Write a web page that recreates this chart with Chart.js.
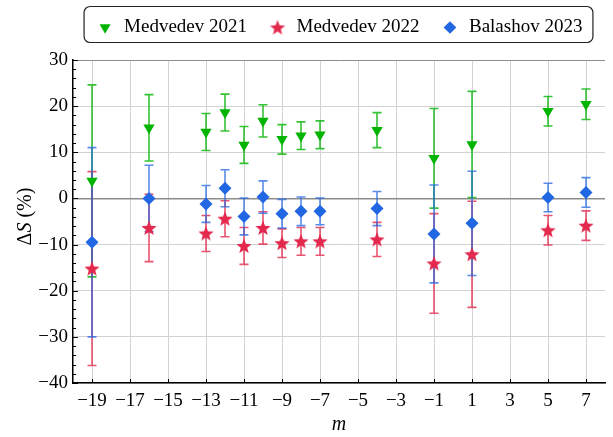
<!DOCTYPE html>
<html>
<head>
<meta charset="utf-8">
<script src="https://cdn.jsdelivr.net/npm/chart.js@4/dist/chart.umd.min.js"></script>
<style>
  body { margin: 0; background: #fff; }
  #wrap { width: 613px; height: 437px; }
</style>
</head>
<body>
<div id="wrap"><canvas id="chartCanvas" width="613" height="437"></canvas></div>
<script>
// data
const mValues = [-19, -16, -13, -12, -11, -10, -9, -8, -7, -4, -1, 1, 5, 7];

const medvedev2021 = [3.8, 15.3, 14.4, 18.6, 11.6, 16.8, 12.8, 13.6, 13.8, 14.8, 8.7, 11.7, 18.9, 20.4];
const medvedev2021Err = [20.8, 7.2, 4.0, 4.0, 4.0, 3.5, 3.2, 3.0, 3.0, 3.8, 10.8, 11.5, 3.2, 3.3];

const medvedev2022 = [-15.2, -6.4, -7.6, -4.4, -10.3, -6.4, -9.7, -9.3, -9.3, -8.9, -14.1, -12.1, -6.9, -5.9];
const medvedev2022Err = [21.0, 7.3, 3.9, 3.9, 4.0, 3.5, 3.1, 3.0, 3.0, 3.7, 10.8, 11.5, 3.2, 3.2];

const balashov2023 = [-9.5, 0.0, -1.2, 2.2, -3.9, 0.3, -3.3, -2.8, -2.8, -2.2, -7.7, -5.4, 0.2, 1.3];
const balashov2023Err = [20.5, 7.2, 4.0, 4.0, 4.0, 3.5, 3.1, 3.1, 2.9, 3.7, 10.6, 11.3, 3.1, 3.2];

const xTicks = [-19, -17, -15, -13, -11, -9, -7, -5, -3, -1, 1, 3, 5, 7];
const yTicks = [-40, -30, -20, -10, 0, 10, 20, 30];

const GREEN = "#00b400";
const RED = "#e4294e";
const BLUE = "#2166e2";
const SERIF = "'Liberation Serif', 'Times New Roman', serif";
const LAYOUT_TOP = -3;
const PLOT_TOP = 60;

const fmt = (v) => (v < 0 ? "\u2212" + Math.abs(v) : String(v));

// filled five point star for the 2022 series
function makeStar(color, outer, inner) {
  const size = Math.ceil(outer * 2) + 2;
  const c = document.createElement("canvas");
  c.width = size;
  c.height = size;
  const ctx = c.getContext("2d");
  ctx.fillStyle = color;
  ctx.beginPath();
  for (let k = 0; k < 10; k++) {
    const r = k % 2 === 0 ? outer : inner;
    const a = -Math.PI / 2 + (k * Math.PI) / 5;
    const px = size / 2 + r * Math.cos(a);
    const py = size / 2 + 0.6 + r * Math.sin(a);
    if (k === 0) ctx.moveTo(px, py);
    else ctx.lineTo(px, py);
  }
  ctx.closePath();
  ctx.fill();
  return c;
}
const starImg = makeStar(RED, 8, 3.4);

const toPoints = (vals) => mValues.map((m, i) => ({ x: m, y: vals[i] }));

// push the plot area down so it starts where the reference one does
const legendSpace = {
  id: "legendSpace",
  beforeInit(chart) {
    const legend = chart.legend;
    const origFit = legend.fit;
    legend.fit = function () {
      origFit.call(this);
      this.height = PLOT_TOP - LAYOUT_TOP;
    };
  },
};

const errorBars = {
  id: "errorBars",
  beforeDatasetsDraw(chart) {
    const { ctx, scales } = chart;
    ctx.save();
    chart.data.datasets.forEach((ds, i) => {
      const meta = chart.getDatasetMeta(i);
      if (meta.hidden) return;
      ctx.strokeStyle = ds.errColor;
      ctx.lineWidth = 1.6;
      ds.data.forEach((p, j) => {
        const e = ds.errors[j];
        const x = scales.x.getPixelForValue(p.x);
        const yTop = scales.y.getPixelForValue(p.y + e);
        const yBot = scales.y.getPixelForValue(p.y - e);
        ctx.beginPath();
        ctx.moveTo(x, yTop);
        ctx.lineTo(x, yBot);
        ctx.moveTo(x - 4.5, yTop);
        ctx.lineTo(x + 4.5, yTop);
        ctx.moveTo(x - 4.5, yBot);
        ctx.lineTo(x + 4.5, yBot);
        ctx.stroke();
      });
    });
    ctx.restore();
  },
};

const frame = {
  id: "frame",
  afterDraw(chart) {
    const { ctx, scales, chartArea } = chart;
    ctx.save();
    // inward ticks
    ctx.strokeStyle = "#000";
    ctx.lineWidth = 1;
    ctx.beginPath();
    for (let v = -40; v <= 30; v += 2) {
      const y = Math.round(scales.y.getPixelForValue(v)) + 0.5;
      const len = v % 10 === 0 ? 5 : 3;
      ctx.moveTo(chartArea.left, y);
      ctx.lineTo(chartArea.left + len, y);
    }
    xTicks.forEach((v) => {
      const x = Math.round(scales.x.getPixelForValue(v)) + 0.5;
      ctx.moveTo(x, chartArea.bottom);
      ctx.lineTo(x, chartArea.bottom - 4);
    });
    ctx.stroke();

    // y axis title: ΔS (%)
    ctx.translate(26, (chartArea.top + chartArea.bottom) / 2 - 5);
    ctx.rotate(-Math.PI / 2);
    ctx.fillStyle = "#000";
    ctx.textBaseline = "middle";
    const parts = [
      ["\u0394", "20px " + SERIF],
      ["S", "italic 20px " + SERIF],
      [" (%)", "20px " + SERIF],
    ];
    let total = 0;
    parts.forEach(([t, f]) => {
      ctx.font = f;
      total += ctx.measureText(t).width;
    });
    let cx = -total / 2;
    parts.forEach(([t, f]) => {
      ctx.font = f;
      ctx.fillText(t, cx, 0);
      cx += ctx.measureText(t).width;
    });
    ctx.restore();

    // rounded frame around the legend items
    const boxes = chart.legend.legendHitBoxes;
    if (boxes && boxes.length) {
      const l = Math.min(...boxes.map((b) => b.left)) - 12;
      const r = Math.max(...boxes.map((b) => b.left + b.width)) + 10;
      const t = 6;
      const b = 42;
      ctx.save();
      ctx.strokeStyle = "#222";
      ctx.lineWidth = 1.2;
      ctx.beginPath();
      ctx.roundRect(l + 0.5, t + 0.5, r - l, b - t, 6);
      ctx.stroke();
      ctx.restore();
    }
  },
};

Chart.defaults.font.family = SERIF;
Chart.defaults.color = "#000";

new Chart(document.getElementById("chartCanvas"), {
  type: "scatter",
  data: {
    datasets: [
      {
        label: "Medvedev 2021",
        data: toPoints(medvedev2021),
        errors: medvedev2021Err,
        errColor: "rgba(0,180,0,0.8)",
        backgroundColor: GREEN,
        borderColor: GREEN,
        pointStyle: "triangle",
        rotation: 180,
        pointRadius: 6.5,
        borderWidth: 0,
      },
      {
        label: "Medvedev 2022",
        data: toPoints(medvedev2022),
        errors: medvedev2022Err,
        errColor: "rgba(228,41,78,0.8)",
        backgroundColor: RED,
        borderColor: RED,
        pointStyle: starImg,
        pointRadius: 8,
        borderWidth: 0,
      },
      {
        label: "Balashov 2023",
        data: toPoints(balashov2023),
        errors: balashov2023Err,
        errColor: "rgba(33,102,226,0.75)",
        backgroundColor: BLUE,
        borderColor: BLUE,
        pointStyle: "rectRot",
        pointRadius: 6.5,
        borderWidth: 0,
      },
    ],
  },
  options: {
    responsive: false,
    animation: false,
    layout: { padding: { top: LAYOUT_TOP, right: 1, left: 0, bottom: 0 } },
    plugins: {
      tooltip: { enabled: false },
      legend: {
        position: "top",
        fullSize: false,
        labels: {
          usePointStyle: true,
          boxHeight: 9,
          font: { size: 19 },
          padding: 21,
          color: "#000",
        },
      },
    },
    scales: {
      x: {
        type: "linear",
        min: -20,
        max: 8,
        afterBuildTicks: (axis) => {
          axis.ticks = xTicks.map((v) => ({ value: v }));
        },
        afterFit: (axis) => {
          axis.height = 54;
        },
        ticks: {
          font: { size: 19 },
          padding: 7,
          maxRotation: 0,
          autoSkip: false,
          callback: (v) => fmt(v),
        },
        grid: { color: "#d2d2d2", lineWidth: 1, drawTicks: false },
        border: { color: "#000", width: 1.5 },
        title: {
          display: true,
          text: "m",
          font: { size: 20, style: "italic" },
          padding: { top: 0, bottom: 0 },
        },
      },
      y: {
        min: -40,
        max: 30,
        afterBuildTicks: (axis) => {
          axis.ticks = yTicks.map((v) => ({ value: v }));
        },
        afterFit: (axis) => {
          axis.width = 73;
        },
        ticks: {
          font: { size: 19 },
          padding: 5,
          callback: (v) => fmt(v),
        },
        grid: {
          color: (c) => (c.tick && (c.tick.value === 0 || c.tick.value === 30) ? "#8c8c8c" : "#d2d2d2"),
          lineWidth: (c) => (c.tick && c.tick.value === 0 ? 1.4 : 1),
          drawTicks: false,
        },
        border: { color: "#000", width: 1.5 },
      },
    },
  },
  plugins: [legendSpace, errorBars, frame],
});
</script>
</body>
</html>
